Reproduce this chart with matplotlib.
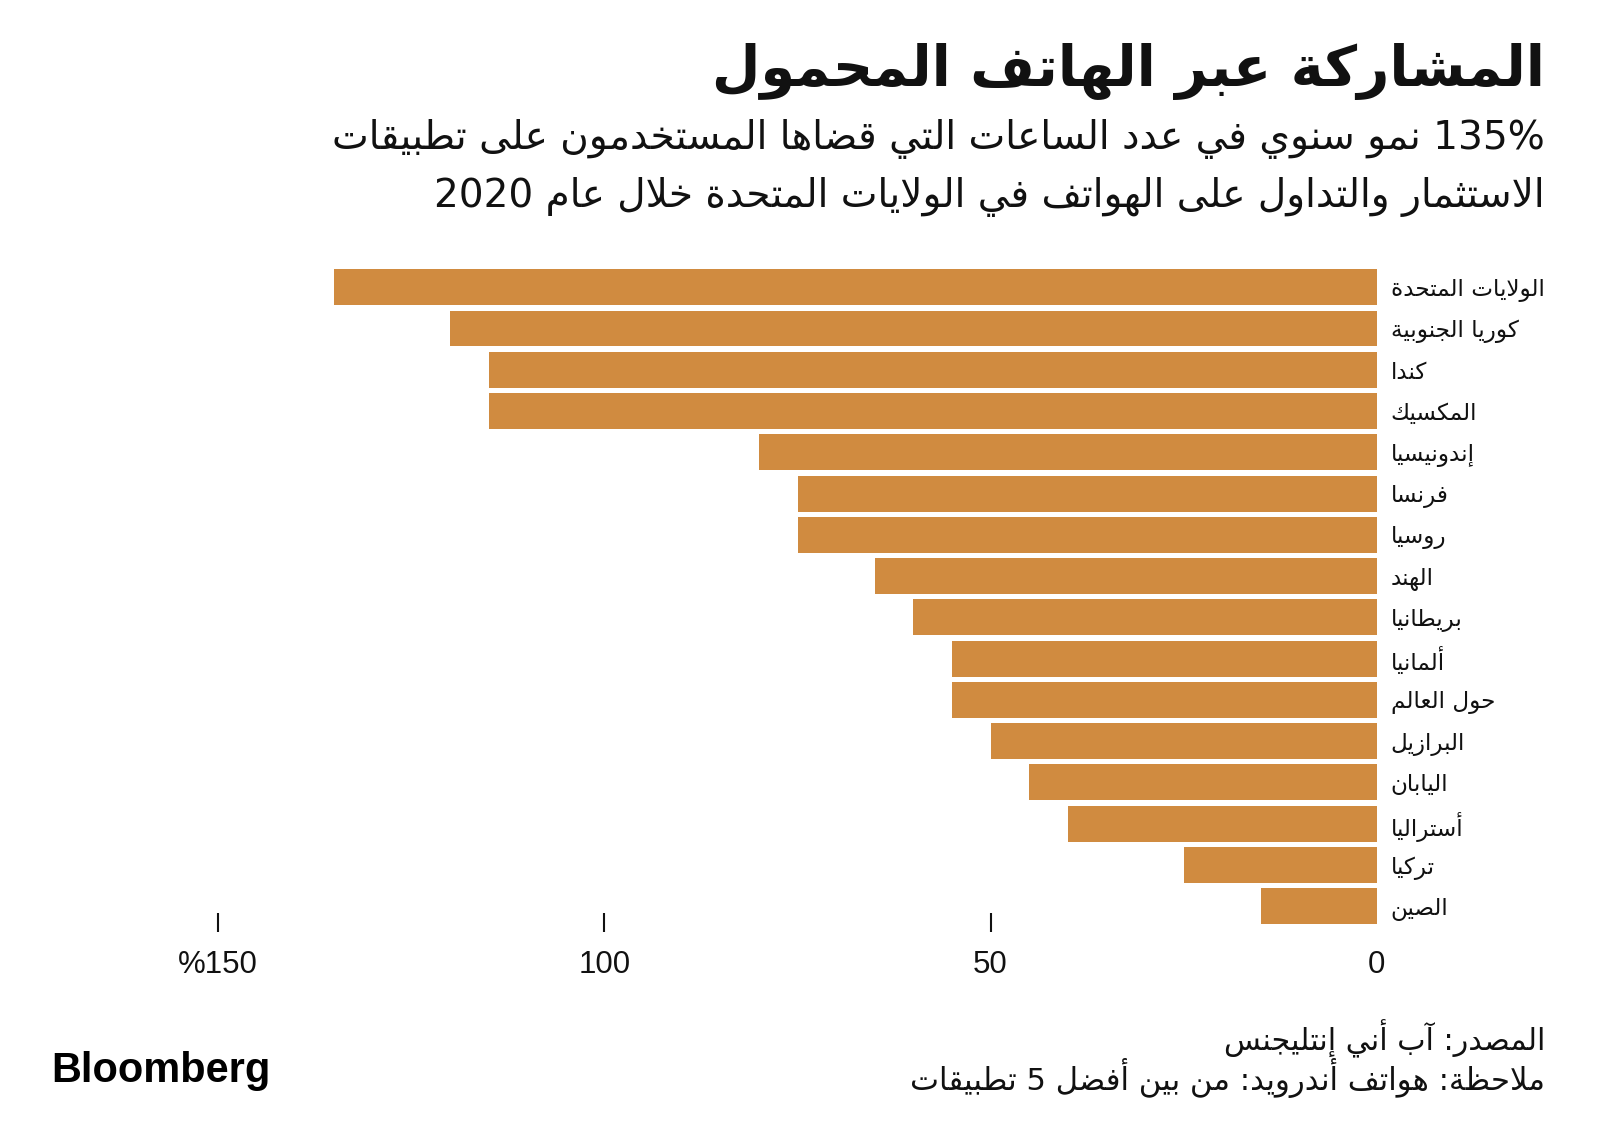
import matplotlib
matplotlib.use("Agg")
import matplotlib.pyplot as plt
import re

# ---------------- data ----------------
countries = ["الولايات المتحدة", "كوريا الجنوبية", "كندا", "المكسيك", "إندونيسيا",
             "فرنسا", "روسيا", "الهند", "بريطانيا", "ألمانيا", "حول العالم",
             "البرازيل", "اليابان", "أستراليا", "تركيا", "الصين"]
growth = [135, 120, 115, 115, 80, 75, 75, 65, 60, 55, 55, 50, 45, 40, 25, 15]
xticks = [0, 50, 100, 150]
xticklabels = ["0", "50", "100", "%150"]

title = "المشاركة عبر الهاتف المحمول"
subtitle1 = "135% نمو سنوي في عدد الساعات التي قضاها المستخدمون على تطبيقات"
subtitle2 = "الاستثمار والتداول على الهواتف في الولايات المتحدة خلال عام 2020"
source = "المصدر: آب أني إنتليجنس"
note = "ملاحظة: هواتف أندرويد: من بين أفضل 5 تطبيقات"
brand = "Bloomberg"

BAR_COLOR = "#D08B40"
TEXT_COLOR = "#111111"

# ---------------- Arabic shaping (presentation forms + visual order) ----------------
_letters = [("ء", 1), ("آ", 2), ("أ", 2), ("ؤ", 2), ("إ", 2), ("ئ", 4), ("ا", 2),
            ("ب", 4), ("ة", 2), ("ت", 4), ("ث", 4), ("ج", 4), ("ح", 4), ("خ", 4),
            ("د", 2), ("ذ", 2), ("ر", 2), ("ز", 2), ("س", 4), ("ش", 4), ("ص", 4),
            ("ض", 4), ("ط", 4), ("ظ", 4), ("ع", 4), ("غ", 4), ("ف", 4), ("ق", 4),
            ("ك", 4), ("ل", 4), ("م", 4), ("ن", 4), ("ه", 4), ("و", 2), ("ى", 2),
            ("ي", 4)]
FORMS = {}
_cp = 0xFE80
for ch, n in _letters:
    FORMS[ch] = [chr(_cp + k) for k in range(n)]
    _cp += n
LAMALEF = {"آ": (0xFEF5, 0xFEF6), "أ": (0xFEF7, 0xFEF8),
           "إ": (0xFEF9, 0xFEFA), "ا": (0xFEFB, 0xFEFC)}


def _dual(c):
    return c in FORMS and len(FORMS[c]) == 4


def shape(s):
    out = []
    i = 0
    n = len(s)
    while i < n:
        c = s[i]
        if c not in FORMS:
            out.append(c)
            i += 1
            continue
        prev_joins = i > 0 and _dual(s[i - 1])
        if c == "ل" and i + 1 < n and s[i + 1] in LAMALEF:
            iso, fin = LAMALEF[s[i + 1]]
            out.append(chr(fin if prev_joins else iso))
            i += 2
            continue
        next_joins = _dual(c) and i + 1 < n and s[i + 1] in FORMS
        f = FORMS[c]
        if len(f) == 1:
            out.append(f[0])
        elif len(f) == 2:
            out.append(f[1] if prev_joins else f[0])
        else:
            if prev_joins and next_joins:
                out.append(f[3])
            elif prev_joins:
                out.append(f[1])
            elif next_joins:
                out.append(f[2])
            else:
                out.append(f[0])
        i += 1
    vis = "".join(out)[::-1]
    vis = re.sub(r"[0-9A-Za-z%.,]+", lambda m: m.group(0)[::-1], vis)
    return vis


AR = ["DejaVu Sans"]

# ---------------- figure ----------------
W, H = 1600, 1148
fig = plt.figure(figsize=(W / 100, H / 100), dpi=100)
fig.patch.set_facecolor("white")

x0_px, x150_px = 1376.7, 218.3
top_px, bot_px = 262.5, 931.5
ax = fig.add_axes([x150_px / W, 1 - bot_px / H, (x0_px - x150_px) / W, (bot_px - top_px) / H])

ypos = list(range(len(countries)))
ax.barh(ypos, growth, height=0.87, color=BAR_COLOR, edgecolor="none")
ax.set_xlim(150, 0)
ax.set_ylim(15.613, -0.6)

for sp in ax.spines.values():
    sp.set_visible(False)

ax.set_xticks(xticks)
ax.set_xticklabels(xticklabels, fontfamily="Liberation Sans", fontsize=22.5, color=TEXT_COLOR)
ax.tick_params(axis="x", direction="in", length=14, width=1.5, color=TEXT_COLOR, pad=13)
ax.xaxis.get_major_ticks()[0].tick1line.set_visible(False)

ax.yaxis.tick_right()
ax.set_yticks(ypos)
ax.set_yticklabels([shape(c) for c in countries], fontfamily=AR, fontsize=16.7, color=TEXT_COLOR)
ax.tick_params(axis="y", length=0, pad=10)

# ---------------- texts ----------------
renderer = fig.canvas.get_renderer()


def fit(t, target_w):
    bb = t.get_window_extent(renderer)
    t.set_fontsize(t.get_fontsize() * target_w / bb.width)


RX = 1545 / W
t_title = fig.text(RX, 1 - 72 / H, shape(title), ha="right", va="center",
                   fontfamily=AR, fontweight="bold", fontsize=40, color=TEXT_COLOR)
fit(t_title, 832)
t_s1 = fig.text(RX, 1 - 139 / H, shape(subtitle1), ha="right", va="center",
                fontfamily=AR, fontsize=24, color=TEXT_COLOR)
fit(t_s1, 1217)
t_s2 = fig.text(RX, 1 - 197 / H, shape(subtitle2), ha="right", va="center",
                fontfamily=AR, fontsize=24, color=TEXT_COLOR)
fit(t_s2, 1116)
t_src = fig.text(RX, 1 - 1039 / H, shape(source), ha="right", va="center",
                 fontfamily=AR, fontsize=16, color=TEXT_COLOR)
fit(t_src, 321)
t_note = fig.text(RX, 1 - 1078 / H, shape(note), ha="right", va="center",
                  fontfamily=AR, fontsize=16, color=TEXT_COLOR)
fit(t_note, 635)
t_brand = fig.text(51 / W, 1 - 1071 / H, brand, ha="left", va="center",
                   fontfamily="Liberation Sans", fontweight="bold", fontsize=30, color="black")
fit(t_brand, 219)

fig.savefig("out.png", dpi=100, facecolor="white")
